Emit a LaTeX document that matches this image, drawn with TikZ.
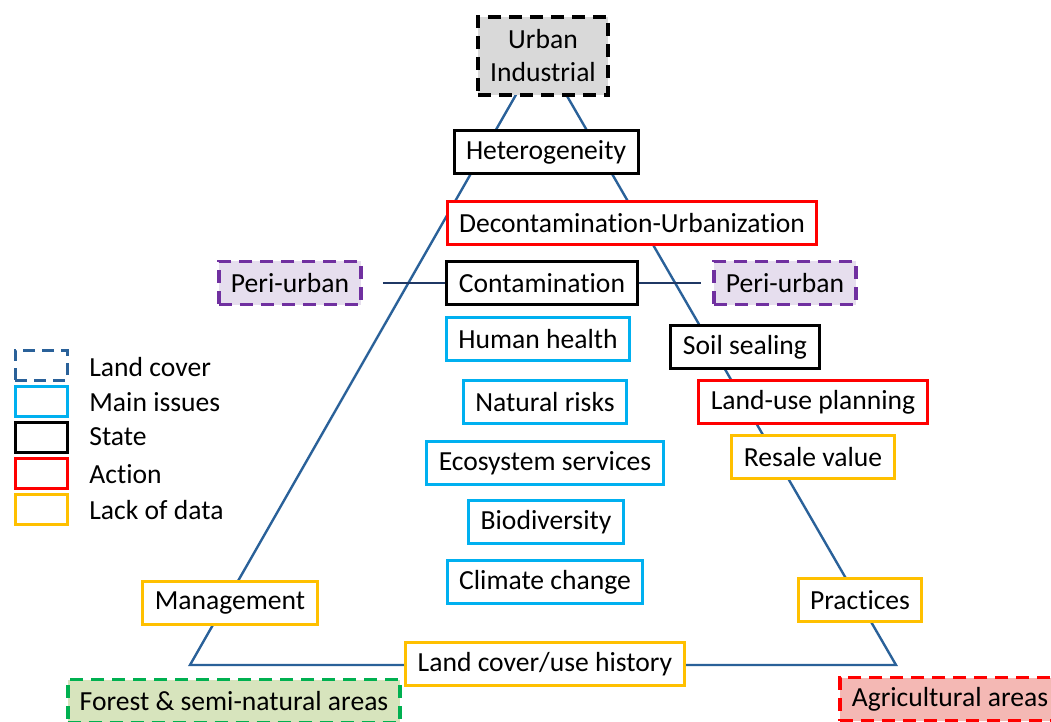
\documentclass[tikz,border=0pt]{standalone}
\usepackage{fontspec}
\setmainfont[Ligatures=NoCommon]{Carlito}
\definecolor{sideblue}{HTML}{2A6199}
\definecolor{linknavy}{HTML}{1F3864}
\definecolor{issuecyan}{HTML}{00B0F0}
\definecolor{nodatayellow}{HTML}{FFC000}
\definecolor{periviolet}{HTML}{7030A0}
\definecolor{perifill}{HTML}{E6DEEE}
\definecolor{forestgreen}{HTML}{00B050}
\definecolor{forestfill}{HTML}{D7E4BD}
\definecolor{agrifill}{HTML}{F4B8B4}
\definecolor{urbanfill}{HTML}{D9D9D9}
\tikzset{side/.style={line width=1.2pt, sideblue, line join=miter}}
\tikzset{link/.style={line width=1.2pt, linknavy}}
\tikzset{box/.style={draw, line width=1.5pt, fill=white, minimum height=21.5pt, inner xsep=6pt, inner ysep=2pt, font=\fontsize{13.8}{16.5}\selectfont}}
\tikzset{state/.style={box, draw=black}}
\tikzset{issue/.style={box, draw=issuecyan}}
\tikzset{action/.style={box, draw=red}}
\tikzset{nodata/.style={box, draw=nodatayellow}}
\tikzset{cover/.style={box, line width=1.8pt, dash pattern=on 6.5pt off 4pt}}
\tikzset{periurban/.style={cover, draw=periviolet, fill=perifill}}
\tikzset{keybox/.style={draw, line width=1.5pt, minimum width=26pt, minimum height=15pt, inner sep=0pt}}
\tikzset{keytext/.style={anchor=west, inner sep=0pt, font=\fontsize{13.8}{16.5}\selectfont}}

\begin{document}
\begin{tikzpicture}[x=0.5pt, y=-0.5pt]
\useasboundingbox (0,0) rectangle (1051,722);
% triangle of land covers
\coordinate (apex) at (541,51);
\coordinate (forestcorner) at (190,665);
\coordinate (agricorner) at (896,665);
\draw[side] (apex) -- (forestcorner) -- (agricorner) -- cycle;
\node[cover, draw=black, fill=urbanfill, align=center, minimum width=65pt, minimum height=39pt] (urban) at (543,56) {Urban\\Industrial};
\node[state] (hetero) at (546,152) {Heterogeneity};
\node[action] (decont) at (632,223) {Decontamination-Urbanization};
\node[state] (contam) at (542,283) {Contamination};
\node[periurban] (periL) at (290,283) {Peri-urban};
\node[periurban] (periR) at (785,283) {Peri-urban};
\draw[link, shorten <=10pt] (periL) -- (contam);
\draw[link, shorten >=5.5pt] (contam) -- (periR);
\node[issue] (health) at (538,339) {Human health};
\node[state] (sealing) at (745,347) {Soil sealing};
\node[issue] (risks) at (545,402) {Natural risks};
\node[action] (planning) at (813,402) {Land-use planning};
\node[nodata] (resale) at (813,457) {Resale value};
\node[issue] (ecosys) at (545,463) {Ecosystem services};
\node[issue] (biodiv) at (546,522) {Biodiversity};
\node[issue] (climate) at (545,582) {Climate change};
\node[nodata] (manage) at (230,603) {Management};
\node[nodata] (practices) at (860,600) {Practices};
\node[nodata] (history) at (545,664) {Land cover/use history};
\node[cover, draw=forestgreen, fill=forestfill] (forest) at (234,701) {Forest \& semi-natural areas};
\node[cover, draw=red, fill=agrifill, anchor=west] (agri) at (838,699) {Agricultural areas};
% legend
\node[keybox, sideblue, dash pattern=on 6pt off 3.5pt] (keycover) at (41,365) {};
\node[keybox, issuecyan] (keyissue) at (41,401) {};
\node[keybox, black] (keystate) at (41,437) {};
\node[keybox, red] (keyaction) at (41,473) {};
\node[keybox, nodatayellow] (keynodata) at (41,509) {};
\node[keytext] at (89,367) {Land cover};
\node[keytext] at (89,402) {Main issues};
\node[keytext] at (89,437) {State};
\node[keytext] at (89,474) {Action};
\node[keytext] at (89,510) {Lack of data};
\end{tikzpicture}
\end{document}
